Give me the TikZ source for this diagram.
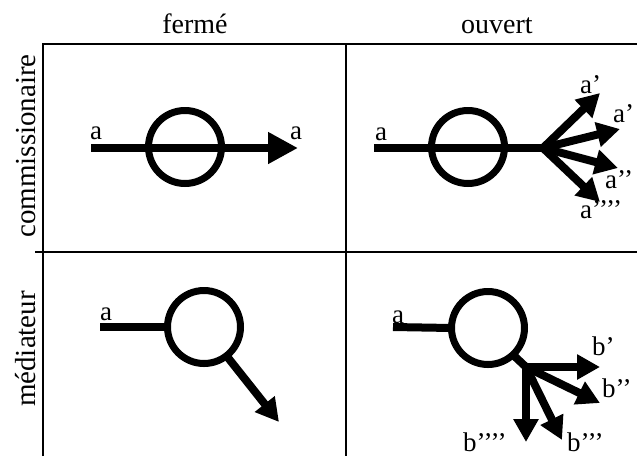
\documentclass[tikz,border=0pt]{standalone}
\usepackage{fontspec}
\setmainfont{Liberation Serif}
\usetikzlibrary{arrows.meta}
\begin{document}
\begin{tikzpicture}[x=1pt,y=-1pt,
  gridline/.style={line width=1.3pt,black},
  ring/.style={circle,draw,line width=7pt,minimum size=73pt,inner sep=0pt,outer sep=0pt},
  flow/.style={line width=8pt},
  bighead/.style={flow,-{Triangle[length=30pt,width=30pt]}},
  head/.style={flow,-{Triangle[length=23pt,width=24pt]}},
  lbl/.style={font=\fontsize{27}{27}\selectfont,inner sep=0pt,anchor=base west},
  hdr/.style={font=\fontsize{28}{28}\selectfont,inner sep=0pt,anchor=base},
  side/.style={font=\fontsize{29}{29}\selectfont,inner sep=0pt,anchor=base,rotate=90}]
\useasboundingbox (0,0) rectangle (637,456);
% grid
\coordinate (g1) at (43,44); \coordinate (g2) at (43,456);
\coordinate (g3) at (346,44); \coordinate (g4) at (346,456);
\coordinate (g5) at (637,44);
\coordinate (g6) at (35,252); \coordinate (g7) at (637,252);
\draw[gridline] (g2) -- (g1) -- (g5);
\draw[gridline] (g3) -- (g4);
\draw[gridline] (g6) -- (g7);
% headers
\node[hdr] (hf) at (195,33) {fermé};
\node[hdr] (ho) at (497,33) {ouvert};
\node[side] (sc) at (35,146) {commissionaire};
\node[side] (sm) at (35,349) {médiateur};
% top-left
\node[ring] (c1) at (185,147) {};
\coordinate (tl-s) at (91,148);
\coordinate (tl-e) at (298,148);
\draw[bighead] (tl-s) -- (tl-e);
\node[lbl] (tl-a1) at (90,139) {a};
\node[lbl] (tl-a2) at (290,139) {a};
% top-right
\node[ring] (c2) at (468,147) {};
\coordinate (tr-s) at (374,148);
\coordinate (tr-b) at (543,148);
\coordinate (tr-t1) at (600,93);
\coordinate (tr-t2) at (620,129);
\coordinate (tr-t3) at (618,168);
\coordinate (tr-t4) at (600,202);
\draw[flow] (tr-s) -- (tr-b);
\draw[head] (tr-b) -- (tr-t1);
\draw[head] (tr-b) -- (tr-t2);
\draw[head] (tr-b) -- (tr-t3);
\draw[head] (tr-b) -- (tr-t4);
\node[lbl] (tr-a) at (375,140) {a};
\node[lbl] (tr-l1) at (580,93) {a’};
\node[lbl] (tr-l2) at (613,122) {a’};
\node[lbl] (tr-l3) at (605,188) {a’’};
\node[lbl] (tr-l4) at (580,218) {a’’’’};
% bottom-left
\node[ring] (c3) at (204,327) {};
\coordinate (bl-s) at (100,327);
\coordinate (bl-t) at (279,422);
\draw[flow] (bl-s) -- (c3.west);
\draw[head] (c3.-52) -- (bl-t);
\node[lbl] (bl-a) at (100,320) {a};
% bottom-right
\node[ring] (c4) at (488,328) {};
\coordinate (br-s) at (393,327);
\coordinate (br-b) at (526,367);
\coordinate (br-t1) at (600,367);
\coordinate (br-t2) at (600,403);
\coordinate (br-t3) at (562,440);
\coordinate (br-t4) at (526,442);
\draw[flow] (br-s) -- (c4.west);
\draw[flow] (c4.-47) -- (br-b);
\draw[head] (br-b) -- (br-t1);
\draw[head] (br-b) -- (br-t2);
\draw[head] (br-b) -- (br-t3);
\draw[head] (br-b) -- (br-t4);
\node[lbl] (br-a) at (392,323) {a};
\node[lbl] (br-l1) at (592,355) {b’};
\node[lbl] (br-l2) at (602,397) {b’’};
\node[lbl] (br-l3) at (567,451) {b’’’};
\node[lbl] (br-l4) at (463,451) {b’’’’};
\end{tikzpicture}
\end{document}
